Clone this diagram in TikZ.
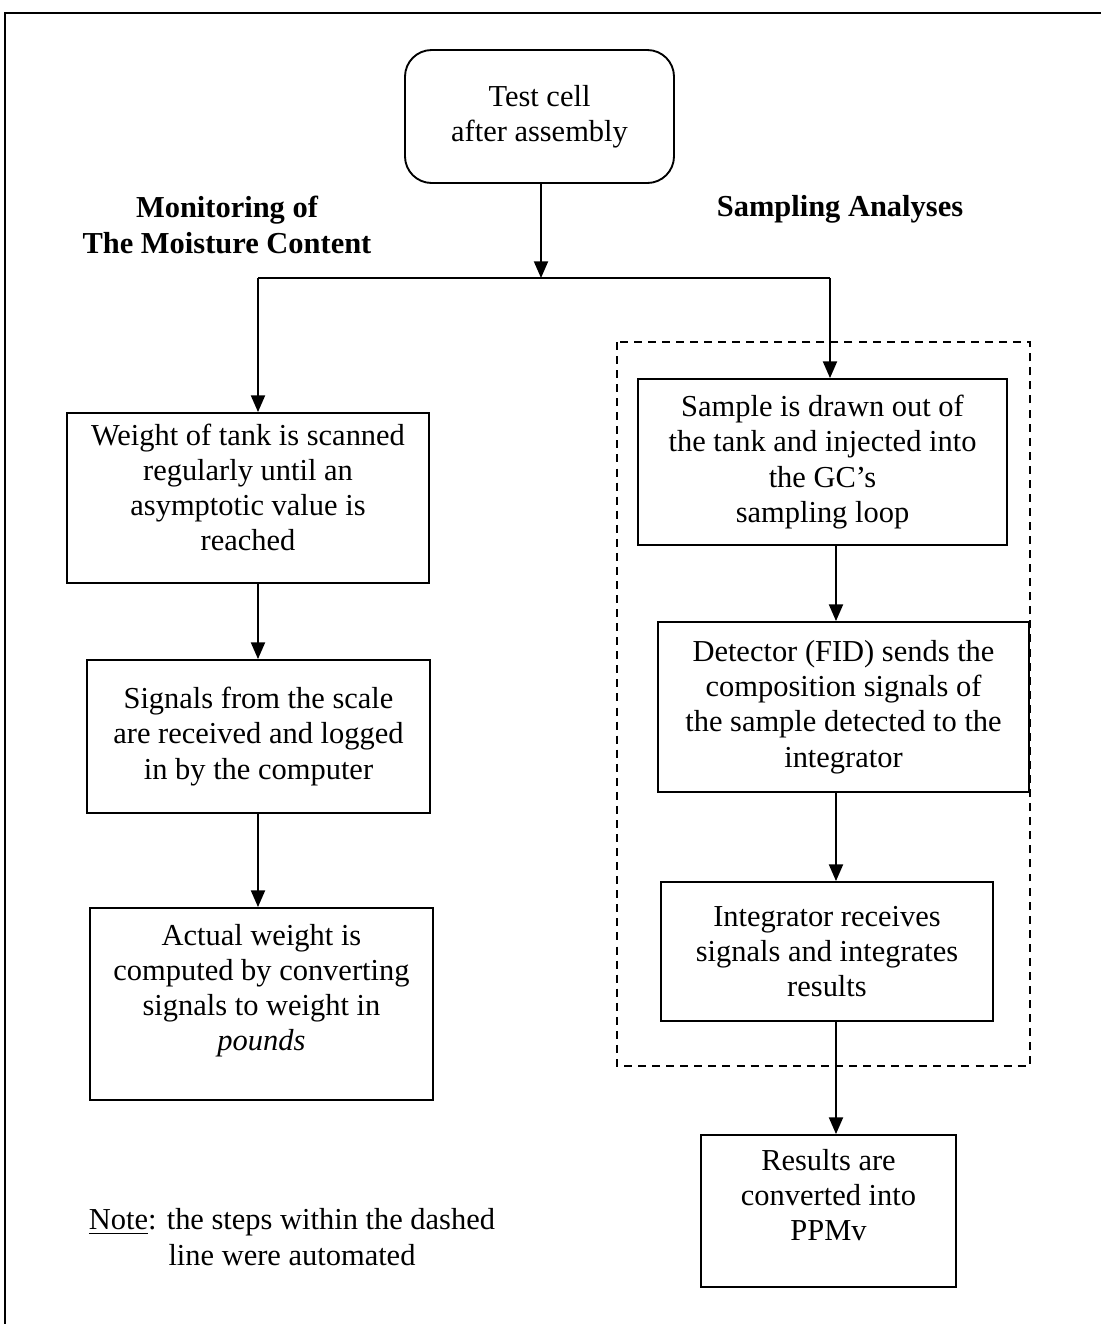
\documentclass[tikz,border=0pt]{standalone}
\usepackage{fontspec}
\setmainfont{Liberation Serif}
\usetikzlibrary{arrows.meta}
\begin{document}
\begin{tikzpicture}[x=0.015cm,y=-0.015cm,
  every node/.style={font=\fontsize{13pt}{15pt}\selectfont, align=center},
  stepbox/.style={draw, line width=0.8pt, inner sep=0pt},
  flow/.style={line width=0.8pt, -{Triangle[length=0.25cm,width=0.21cm]}},
  heading/.style={font=\fontsize{13pt}{15pt}\selectfont\bfseries}]
\useasboundingbox (0,0) rectangle (1101,1324);
% Frame
\draw[line width=0.8pt] (1101,13) -- (5,13) -- (5,1324);
% Start
\node[stepbox, rounded corners=0.4cm, minimum width=4.035cm, minimum height=1.995cm] (test) at (539.5,116.5) {Test cell\\after assembly};
% Headings
\node[heading] (moist) at (227,225) {Monitoring of\\The Moisture Content};
\node[heading] (samp) at (840,209) {Sampling Analyses};
% Left branch
\node[stepbox, text depth=9pt, minimum width=5.43cm, minimum height=2.55cm] (wt) at (248,498) {Weight of tank is scanned\\regularly until an\\asymptotic value is\\reached};
\node[stepbox, minimum width=5.145cm, minimum height=2.295cm] (sig) at (258.5,736.5) {Signals from the scale\\are received and logged\\in by the computer};
\node[stepbox, text depth=14pt, minimum width=5.145cm, minimum height=2.88cm] (act) at (261.5,1004) {Actual weight is\\computed by converting\\signals to weight in\\\textit{pounds}};
% Right branch
\node[stepbox, minimum width=5.535cm, minimum height=2.49cm] (draw) at (822.5,462) {Sample is drawn out of\\the tank and injected into\\the GC's\\sampling loop};
\node[stepbox, minimum width=5.565cm, minimum height=2.55cm] (fid) at (843.5,707) {Detector (FID) sends the\\composition signals of\\the sample detected to the\\integrator};
\node[stepbox, minimum width=4.98cm, minimum height=2.085cm] (integ) at (827,951.5) {Integrator receives\\signals and integrates\\results};
\node[stepbox, text depth=14pt, minimum width=3.825cm, minimum height=2.28cm] (ppm) at (828.5,1211) {Results are\\converted into\\PPMv};
% Automated steps
\draw[line width=0.8pt, dash pattern=on 3.4pt off 2.6pt] (617,342) rectangle (1030,1066);
% Note
\node (note) at (292,1237) {\underline{Note}: the steps within the dashed\\line were automated};
% Connectors
\coordinate (jC) at (541,278);
\coordinate (jL) at (258,278);
\coordinate (jR) at (830,278);
\coordinate (aR) at (836,0);
\draw[flow] (test.south -| jC) -- (jC);
\draw[line width=0.8pt] (jL) -- (jR);
\draw[flow] (jL) -- (wt.north -| jL);
\draw[flow] (jR) -- (draw.north -| jR);
\draw[flow] (wt.south -| jL) -- (sig.north -| jL);
\draw[flow] (sig.south -| jL) -- (act.north -| jL);
\draw[flow] (draw.south -| aR) -- (fid.north -| aR);
\draw[flow] (fid.south -| aR) -- (integ.north -| aR);
\draw[flow] (integ.south -| aR) -- (ppm.north -| aR);
\end{tikzpicture}
\end{document}
